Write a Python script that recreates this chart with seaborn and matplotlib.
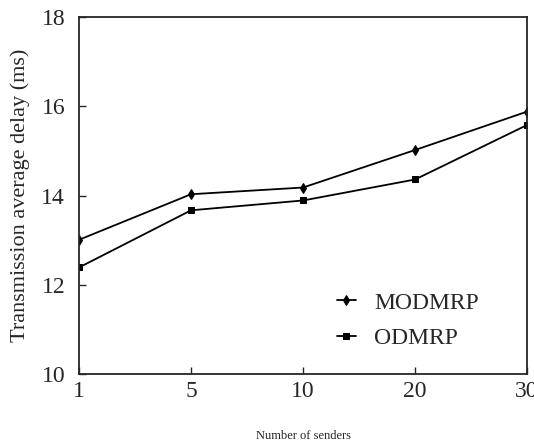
import numpy as np
import pandas as pd
import matplotlib
matplotlib.use("Agg")
import matplotlib.pyplot as plt
import seaborn as sns

senders = ["1", "5", "10", "20", "30"]
modmrp = [13.01, 14.03, 14.18, 15.02, 15.88]
odmrp = [12.39, 13.67, 13.89, 14.36, 15.58]
series_names = ["MODMRP", "ODMRP"]
y_ticks = [10, 12, 14, 16, 18]

sns.set_theme(style="ticks")
plt.rcParams['font.family'] = ['Liberation Serif', 'DejaVu Serif']

pos = np.arange(len(senders))
df = pd.DataFrame({
    "pos": np.concatenate([pos, pos]),
    "delay": modmrp + odmrp,
    "series": [series_names[0]] * len(senders) + [series_names[1]] * len(senders),
})

fig = plt.figure(figsize=(5.34, 4.46), dpi=100)
ax = fig.add_axes([0.148, 0.161, 0.839, 0.801])
sns.lineplot(data=df, x="pos", y="delay", hue="series", style="series",
             palette=["black", "black"], markers={"MODMRP": "d", "ODMRP": "s"},
             dashes=False, markersize=5, markeredgecolor="black",
             linewidth=1.3, ax=ax, legend=True)

ax.set_xlim(pos[0], pos[-1])
ax.set_ylim(10, 18)
ax.set_xticks(pos)
ax.set_xticklabels(senders)
ax.set_yticks(y_ticks)
ax.tick_params(direction="in", length=5, labelsize=17, width=1)
ax.tick_params(axis="x", pad=5)
ax.tick_params(axis="y", pad=10)
for s in ax.spines.values():
    s.set_linewidth(1.3)
    s.set_visible(True)
ax.set_xlabel("Number of senders", fontsize=9, labelpad=20)
ax.set_ylabel("Transmission average delay (ms)", fontsize=16, labelpad=8)

leg = ax.legend(loc="upper left", bbox_to_anchor=(0.575, 0.23), frameon=False,
                fontsize=17, handlelength=0.8, handletextpad=0.8,
                labelspacing=0.6, borderpad=0, borderaxespad=0)
fig.savefig("out.png", dpi=100)
